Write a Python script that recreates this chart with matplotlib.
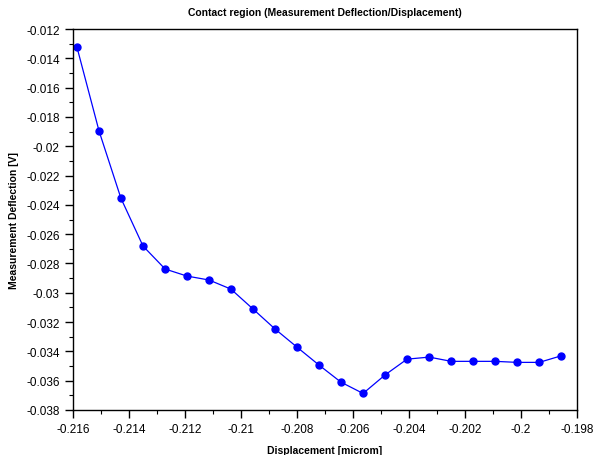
import matplotlib
matplotlib.use("Agg")
import matplotlib.pyplot as plt
from matplotlib.ticker import MultipleLocator, FuncFormatter

plt.rcParams["font.family"] = ["Liberation Sans", "DejaVu Sans"]

displacement = [-0.21586, -0.21507, -0.21429, -0.21350, -0.21271, -0.21193,
                -0.21114, -0.21036, -0.20957, -0.20878, -0.20800, -0.20721,
                -0.20643, -0.20564, -0.20485, -0.20407, -0.20328, -0.20249,
                -0.20171, -0.20092, -0.20014, -0.19935, -0.19856]
deflection = [-0.01323, -0.01896, -0.02354, -0.02681, -0.02838, -0.02886,
              -0.02913, -0.02975, -0.03111, -0.03248, -0.03371, -0.03494,
              -0.03610, -0.03687, -0.03560, -0.03453, -0.03439, -0.03468,
              -0.03468, -0.03468, -0.03475, -0.03475, -0.03430]

fig = plt.figure(figsize=(5.94, 4.56), dpi=100)
ax = fig.add_axes([73 / 594, 1 - 411 / 456, 504 / 594, 381 / 456])

ax.plot(displacement, deflection, color="#0000ff", lw=0.9,
        marker="o", ms=5, mec="#0000ff", mfc="#0000ff")

ax.set_xlim(-0.216, -0.198)
ax.set_ylim(-0.038, -0.012)
ax.xaxis.set_major_locator(MultipleLocator(0.002))
ax.xaxis.set_minor_locator(MultipleLocator(0.001))
ax.yaxis.set_major_locator(MultipleLocator(0.002))
ax.yaxis.set_minor_locator(MultipleLocator(0.001))


def fmt(v, pos):
    s = "%.3f" % v
    s = s.rstrip("0").rstrip(".")
    return s


ax.xaxis.set_major_formatter(FuncFormatter(fmt))
ax.yaxis.set_major_formatter(FuncFormatter(fmt))
ax.tick_params(which="major", direction="out", length=6, width=1,
               labelsize=8.5, top=False, right=False)
ax.tick_params(which="minor", direction="out", length=3, width=0.8,
               top=False, right=False)
for s in ax.spines.values():
    s.set_linewidth(1)

ax.set_title("Contact region (Measurement Deflection/Displacement)",
             fontsize=7.5, fontweight="bold", pad=10)
ax.set_xlabel("Displacement [microm]", fontsize=7.5, fontweight="bold", labelpad=7)
ax.set_ylabel("Measurement Deflection [V]", fontsize=7.5, fontweight="bold", labelpad=5)

fig.savefig("out.png", dpi=100)
